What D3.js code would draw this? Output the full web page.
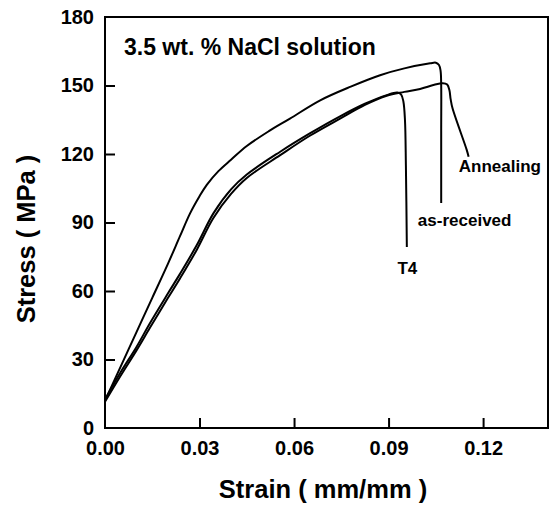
<!DOCTYPE html>
<html>
<head>
<meta charset="utf-8">
<script src="https://cdn.jsdelivr.net/npm/d3@7"></script>
<style>
  body { margin: 0; background: #fff; }
  text { font-family: "Liberation Sans", Arial, sans-serif; font-weight: bold; fill: #000; }
</style>
</head>
<body>
<div id="chart"></div>
<script>
// Tick values
const xTicks = [0, 0.03, 0.06, 0.09, 0.12];
const yTicks = [0, 30, 60, 90, 120, 150, 180];

// Curves: [strain, stress]
const asReceived = [
  [0.000, 12], [0.005, 27], [0.010, 42], [0.015, 57], [0.020, 72], [0.0238, 84],
  [0.027, 94], [0.0300, 101.5], [0.0323, 106.5], [0.036, 112.5], [0.040, 117.5],
  [0.045, 123.5], [0.052, 130], [0.0587, 135.5], [0.0683, 143.5], [0.078, 149.5],
  [0.0873, 154.5], [0.095, 157.5], [0.1032, 159.7], [0.1050, 160], [0.1060, 159],
  [0.1065, 156.5], [0.1067, 150], [0.1067, 130], [0.1067, 98.5]
];
const annealing = [
  [0.000, 11.5], [0.005, 23], [0.010, 34], [0.0143, 44], [0.020, 57], [0.0238, 65.5],
  [0.0291, 78], [0.0344, 92], [0.040, 102.5], [0.045, 109.5], [0.0556, 119.5],
  [0.065, 128], [0.0746, 135.5], [0.0825, 141.5], [0.0894, 145.5], [0.095, 147.2],
  [0.100, 148.5], [0.1045, 150.3], [0.1072, 151], [0.1086, 150.4], [0.1093, 148],
  [0.1097, 144], [0.1103, 140], [0.1148, 121.8], [0.1154, 118.8]
];
const t4 = [
  [0.000, 12.5], [0.005, 24.5], [0.010, 35.5], [0.0143, 46], [0.020, 59], [0.0238, 67.5],
  [0.0291, 80], [0.0344, 94], [0.040, 104.5], [0.045, 111], [0.0556, 121],
  [0.065, 129], [0.0746, 136.5], [0.0825, 142], [0.0894, 145.8], [0.0928, 146.9],
  [0.0940, 146], [0.0947, 143], [0.0952, 135], [0.0955, 115], [0.0958, 79.3]
];

const curveLabels = [
  { text: "Annealing", x: 0.1123, y: 112 },
  { text: "as-received", x: 0.0993, y: 88.5 },
  { text: "T4", x: 0.0928, y: 67.5 }
];
const noteText = "3.5 wt. % NaCl solution";

const width = 550, height = 506;
const margin = { top: 17, right: 2, bottom: 78, left: 105 };

const svg = d3.select("#chart").append("svg")
  .attr("width", width)
  .attr("height", height);

const x = d3.scaleLinear().domain([0, 0.1406]).range([margin.left, width - margin.right]);
const y = d3.scaleLinear().domain([0, 180]).range([height - margin.bottom, margin.top]);

// Frame
svg.append("rect")
  .attr("x", x(0)).attr("y", y(180))
  .attr("width", x.range()[1] - x(0))
  .attr("height", y(0) - y(180))
  .attr("fill", "none")
  .attr("stroke", "#000")
  .attr("stroke-width", 2);

// Axes with inward ticks
const xAxis = svg.append("g")
  .attr("transform", `translate(0,${y(0)})`)
  .call(d3.axisBottom(x).tickValues(xTicks).tickFormat(d3.format(".2f")).tickSize(-10).tickPadding(13));
const yAxis = svg.append("g")
  .attr("transform", `translate(${x(0)},0)`)
  .call(d3.axisLeft(y).tickValues(yTicks).tickSize(-10).tickPadding(11));

[xAxis, yAxis].forEach(a => {
  a.select(".domain").remove();
  a.selectAll("line").attr("stroke", "#000").attr("stroke-width", 2);
  a.selectAll("text").attr("font-size", 20).attr("font-family", "Liberation Sans, Arial, sans-serif").attr("font-weight", "bold");
});
xAxis.selectAll(".tick").filter(d => d === 0).select("line").remove();
yAxis.selectAll(".tick").filter(d => d === 0 || d === 180).select("line").remove();

// Curves
const line = d3.line().x(d => x(d[0])).y(d => y(d[1])).curve(d3.curveCatmullRom.alpha(0.5));
[asReceived, annealing, t4].forEach(c => {
  svg.append("path")
    .datum(c)
    .attr("d", line)
    .attr("fill", "none")
    .attr("stroke", "#000")
    .attr("stroke-width", 2)
    .attr("stroke-linejoin", "round");
});

// Curve labels
svg.selectAll(".clabel")
  .data(curveLabels)
  .join("text")
  .attr("x", d => x(d.x))
  .attr("y", d => y(d.y))
  .attr("font-size", 17)
  .text(d => d.text);

// Note
svg.append("text")
  .attr("x", 124).attr("y", 55)
  .attr("font-size", 23)
  .text(noteText);

// Axis titles
svg.append("text")
  .attr("x", 323)
  .attr("y", 498)
  .attr("text-anchor", "middle")
  .attr("font-size", 25.5)
  .text("Strain ( mm/mm )");

svg.append("text")
  .attr("transform", `translate(35,239) rotate(-90)`)
  .attr("text-anchor", "middle")
  .attr("font-size", 25.5)
  .text("Stress ( MPa )");
</script>
</body>
</html>
